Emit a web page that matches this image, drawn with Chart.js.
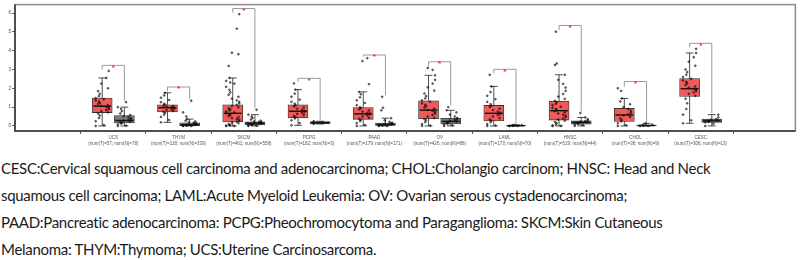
<!DOCTYPE html>
<html>
<head>
<meta charset="utf-8">
<script src="https://cdn.jsdelivr.net/npm/chart.js@4/dist/chart.umd.min.js"></script>
<style>
    body { margin: 0; background: #fff; width: 800px; height: 260px; overflow: hidden; position: relative; }
    #wrap { position: absolute; left: 0; top: 0; width: 800px; height: 150px; }
    #caption { position: absolute; left: 1px; top: 155px; font-family: Lato, "Open Sans", sans-serif; font-size: 15px; letter-spacing: -0.3px; line-height: 27px; color: #1a1a1a; white-space: nowrap; }
</style>
</head>
<body>
<div id="wrap"><canvas id="expr-box"></canvas></div>
<div id="caption">
    <div>CESC:Cervical squamous cell carcinoma and adenocarcinoma; CHOL:Cholangio carcinom; HNSC: Head and Neck</div>
    <div>squamous cell carcinoma; LAML:Acute Myeloid Leukemia: OV: Ovarian serous cystadenocarcinoma;</div>
    <div>PAAD:Pancreatic adenocarcinoma: PCPG:Pheochromocytoma and Paraganglioma: SKCM:Skin Cutaneous</div>
    <div>Melanoma: THYM:Thymoma; UCS:Uterine Carcinosarcoma.</div>
</div>
<script>
// cancer types, left to right
const categories = ["UCS", "THYM", "SKCM", "PCPG", "PAAD", "OV", "LAML", "HNSC", "CHOL", "CESC"];
const numTumor  = [57, 118, 461, 182, 179, 426, 173, 519, 36, 306];
const numNormal = [78, 339, 558, 3, 171, 88, 70, 44, 9, 13];
const yTicks = [0, 1, 2, 3, 4, 5, 6];

// box stats, tumor (red)
const tumorLow  = [0, 0.19, 0, 0.03, 0, 0, 0, 0, 0, 0.14];
const tumorQ1   = [0.71, 0.74, 0.21, 0.43, 0.35, 0.38, 0.26, 0.31, 0.24, 1.57];
const tumorMed  = [1.05, 0.97, 0.67, 0.78, 0.64, 0.84, 0.67, 0.81, 0.58, 1.98];
const tumorQ3   = [1.48, 1.12, 1.12, 1.12, 0.98, 1.33, 1.09, 1.31, 0.93, 2.52];
const tumorHigh = [2.55, 1.76, 2.55, 1.93, 1.81, 2.69, 2.1, 2.72, 1.46, 3.88];

// box stats, normal (grey)
const normalLow  = [0, 0, 0, 0.1, 0, 0, 0, 0, 0, 0];
const normalQ1   = [0.155, 0.02, 0.05, 0.12, 0.0, 0.1, 0, 0.09, 0.0, 0.19];
const normalMed  = [0.29, 0.07, 0.14, 0.17, 0.07, 0.24, 0.01, 0.19, 0.02, 0.27];
const normalQ3   = [0.55, 0.17, 0.22, 0.23, 0.15, 0.4, 0.03, 0.27, 0.04, 0.36];
const normalHigh = [1.0, 0.36, 0.6, 0.25, 0.41, 0.83, 0.06, 0.45, 0.14, 0.6];

// height of the significance bracket per type
const bracketLevel = [3.22, 2.07, 6.24, 2.53, 3.77, 3.41, 3.01, 5.34, 2.36, 4.39];

// jittered sample points
const tumorPoints = [
    [0, 0.05, 0.25, 0.42, 0.55, 0.66, 0.72, 0.78, 0.85, 0.9, 0.96, 1.02, 1.06, 1.1, 1.16, 1.22, 1.3, 1.36, 1.42, 1.48, 1.58, 1.7, 1.85, 2.0, 2.25, 2.55, 2.93],
    [0.19, 0.32, 0.48, 0.6, 0.7, 0.75, 0.8, 0.84, 0.88, 0.92, 0.96, 0.99, 1.02, 1.05, 1.08, 1.12, 1.18, 1.26, 1.38, 1.5, 1.62, 1.76],
    [0, 0, 0.01, 0.03, 0.06, 0.1, 0.14, 0.18, 0.22, 0.27, 0.32, 0.37, 0.42, 0.47, 0.52, 0.57, 0.62, 0.67, 0.72, 0.77, 0.82, 0.88, 0.94, 1.0, 1.06, 1.12, 1.2, 1.28, 1.36, 1.45, 1.55, 1.66, 1.78, 1.92, 2.08, 2.25, 2.4, 2.55, 2.31, 3.19, 3.81, 3.89, 5.17, 5.94],
    [0.03, 0.15, 0.3, 0.4, 0.46, 0.52, 0.58, 0.64, 0.7, 0.75, 0.8, 0.86, 0.92, 0.98, 1.04, 1.1, 1.18, 1.28, 1.4, 1.55, 1.72, 1.93, 2.26],
    [0, 0.05, 0.15, 0.25, 0.32, 0.38, 0.44, 0.5, 0.56, 0.62, 0.66, 0.7, 0.76, 0.82, 0.88, 0.94, 1.0, 1.1, 1.22, 1.36, 1.52, 1.68, 1.81, 2.22, 3.45, 3.6],
    [0, 0.02, 0.1, 0.2, 0.3, 0.36, 0.42, 0.5, 0.58, 0.66, 0.74, 0.8, 0.86, 0.92, 0.98, 1.05, 1.12, 1.2, 1.28, 1.36, 1.46, 1.58, 1.72, 1.88, 2.05, 2.25, 2.45, 2.69, 2.98, 3.08],
    [0, 0.02, 0.1, 0.2, 0.28, 0.35, 0.42, 0.5, 0.58, 0.64, 0.7, 0.76, 0.84, 0.92, 1.0, 1.08, 1.16, 1.28, 1.42, 1.6, 1.8, 2.1, 2.72],
    [0, 0, 0.02, 0.08, 0.15, 0.22, 0.28, 0.34, 0.4, 0.47, 0.54, 0.6, 0.66, 0.72, 0.78, 0.84, 0.9, 0.96, 1.02, 1.1, 1.18, 1.26, 1.34, 1.44, 1.56, 1.7, 1.86, 2.04, 2.24, 2.45, 2.72, 3.24, 3.32, 5.01],
    [0, 0.04, 0.14, 0.24, 0.32, 0.4, 0.48, 0.56, 0.62, 0.7, 0.8, 0.9, 1.0, 1.15, 1.3, 1.46, 1.86, 2.0],
    [0.14, 0.3, 0.6, 0.9, 1.2, 1.45, 1.6, 1.7, 1.78, 1.85, 1.92, 1.98, 2.04, 2.1, 2.18, 2.26, 2.34, 2.42, 2.5, 2.6, 2.72, 2.86, 3.0, 3.2, 3.42, 3.65, 3.88, 4.1]
];
const normalPoints = [
    [0, 0.02, 0.08, 0.13, 0.17, 0.2, 0.24, 0.28, 0.31, 0.35, 0.4, 0.46, 0.52, 0.58, 0.66, 0.78, 0.9, 1.0, 1.26],
    [0, 0, 0.01, 0.02, 0.03, 0.05, 0.06, 0.08, 0.1, 0.12, 0.14, 0.17, 0.2, 0.24, 0.28, 0.36, 0.5, 0.72, 1.34],
    [0, 0.01, 0.03, 0.05, 0.07, 0.09, 0.11, 0.13, 0.15, 0.17, 0.19, 0.21, 0.24, 0.28, 0.34, 0.42, 0.5, 0.6, 0.86],
    [0.1, 0.17, 0.25],
    [0, 0, 0.01, 0.02, 0.04, 0.06, 0.08, 0.1, 0.12, 0.14, 0.17, 0.22, 0.3, 0.41, 0.83, 0.97, 1.55],
    [0, 0.03, 0.08, 0.12, 0.16, 0.2, 0.24, 0.28, 0.32, 0.37, 0.42, 0.5, 0.6, 0.72, 0.83, 1.0],
    [0, 0, 0, 0.01, 0.02, 0.03, 0.04, 0.06],
    [0, 0.04, 0.08, 0.11, 0.14, 0.17, 0.2, 0.23, 0.26, 0.3, 0.36, 0.45, 0.69],
    [0, 0, 0.01, 0.02, 0.03, 0.04, 0.07, 0.14],
    [0, 0.12, 0.19, 0.22, 0.25, 0.27, 0.3, 0.33, 0.36, 0.45, 0.6]
];

const OFFSET = 0.17;      // tumor left / normal right of the tick
const CAP = 0.06;         // half width of whisker caps
const BOX_HALF = 0.137;   // half box width in x units

// spread points across the box, same pattern every time (no diagonal stripes)
const jitter = j => (((j * j * 7 + j * 3) % 17) / 16 - 0.5) * 0.2;

const boxData = (q1, q3, off) => categories.map((c, i) => ({ x: i + 1 + off, y: [q1[i], q3[i]] }));
const pointData = (pts, off) => pts.flatMap((arr, i) => arr.map((v, j) => ({ x: i + 1 + off + jitter(j), y: v })));

const boxExtras = {
    id: "boxExtras",
    beforeDatasetsDraw(chart) {
        const { ctx, scales: { x, y } } = chart;
        ctx.save();
        ctx.strokeStyle = "#222";
        ctx.lineWidth = 0.8;
        [[tumorLow, tumorHigh, -OFFSET], [normalLow, normalHigh, OFFSET]].forEach(([lo, hi, off]) => {
            categories.forEach((c, i) => {
                const cx = x.getPixelForValue(i + 1 + off);
                const w = x.getPixelForValue(i + 1 + off + CAP) - cx;
                const yl = y.getPixelForValue(lo[i]), yh = y.getPixelForValue(hi[i]);
                ctx.beginPath();
                ctx.moveTo(cx, yl); ctx.lineTo(cx, yh);
                ctx.moveTo(cx - w, yl); ctx.lineTo(cx + w, yl);
                ctx.moveTo(cx - w, yh); ctx.lineTo(cx + w, yh);
                ctx.stroke();
            });
        });
        ctx.restore();
    },
    afterDatasetsDraw(chart) {
        const { ctx, chartArea: a, scales: { x, y } } = chart;
        ctx.save();
        // medians
        ctx.strokeStyle = "#111";
        ctx.lineWidth = 1.4;
        [[tumorMed, -OFFSET], [normalMed, OFFSET]].forEach(([med, off]) => {
            categories.forEach((c, i) => {
                const x0 = x.getPixelForValue(i + 1 + off - BOX_HALF);
                const x1 = x.getPixelForValue(i + 1 + off + BOX_HALF);
                const ym = y.getPixelForValue(med[i]);
                ctx.beginPath(); ctx.moveTo(x0, ym); ctx.lineTo(x1, ym); ctx.stroke();
            });
        });
        // significance brackets
        ctx.strokeStyle = "#9a9a9a";
        ctx.lineWidth = 1;
        categories.forEach((c, i) => {
            const xl = x.getPixelForValue(i + 1 - OFFSET);
            const xr = x.getPixelForValue(i + 1 + OFFSET);
            const yb = y.getPixelForValue(bracketLevel[i]);
            const topT = Math.max(tumorHigh[i], ...tumorPoints[i]) + 0.08;
            const topN = Math.max(normalHigh[i], ...normalPoints[i]) + 0.08;
            ctx.beginPath();
            ctx.moveTo(xl, y.getPixelForValue(topT));
            ctx.lineTo(xl, yb); ctx.lineTo(xr, yb);
            ctx.lineTo(xr, y.getPixelForValue(topN));
            ctx.stroke();
            ctx.fillStyle = "#e8262b";
            ctx.font = "bold 8px 'Liberation Sans'";
            ctx.textAlign = "center";
            ctx.textBaseline = "middle";
            ctx.fillText("*", (xl + xr) / 2, yb + 2);
        });
        // panel frame
        ctx.strokeStyle = "#8a8a8a";
        ctx.lineWidth = 1.5;
        ctx.strokeRect(a.left, a.top, a.right - a.left, a.bottom - a.top);
        ctx.strokeStyle = "#333";
        ctx.beginPath();
        ctx.moveTo(a.left, a.top); ctx.lineTo(a.left, a.bottom); ctx.lineTo(a.right, a.bottom);
        ctx.stroke();
        ctx.restore();
    }
};

document.addEventListener("DOMContentLoaded", () => {
    const canvas = document.getElementById("expr-box");
    const ctx = canvas.getContext("2d");

    new Chart(ctx, {
        type: "bar",
        data: {
            datasets: [
                {
                    type: "scatter", label: "Tumor points", order: 0,
                    data: pointData(tumorPoints, -OFFSET),
                    pointRadius: 0.9, borderWidth: 0.6,
                    borderColor: "rgba(0,0,0,0.9)", backgroundColor: "rgba(30,30,30,0.5)"
                },
                {
                    type: "scatter", label: "Normal points", order: 0,
                    data: pointData(normalPoints, OFFSET),
                    pointRadius: 0.9, borderWidth: 0.6,
                    borderColor: "rgba(0,0,0,0.9)", backgroundColor: "rgba(30,30,30,0.5)"
                },
                {
                    label: "Tumor", order: 1, grouped: false, barThickness: 20,
                    data: boxData(tumorQ1, tumorQ3, -OFFSET),
                    backgroundColor: "#ef5b5b", borderColor: "#333", borderWidth: 0.8, borderSkipped: false
                },
                {
                    label: "Normal", order: 1, grouped: false, barThickness: 20,
                    data: boxData(normalQ1, normalQ3, OFFSET),
                    backgroundColor: "#7a7a7a", borderColor: "#333", borderWidth: 0.8, borderSkipped: false
                }
            ]
        },
        options: {
            responsive: true,
            maintainAspectRatio: false,
            animation: false,
            layout: { padding: { top: 1, right: 3, left: 0, bottom: 0 } },
            plugins: {
                legend: { display: false },
                tooltip: { enabled: false }
            },
            scales: {
                x: {
                    type: "linear",
                    min: 0.092,
                    max: 10.853,
                    afterBuildTicks: s => { s.ticks = categories.map((c, i) => ({ value: i + 1 })); },
                    afterFit: s => { s.height = 19; },
                    grid: { drawOnChartArea: false, tickLength: 3, color: "#333", lineWidth: 0.8 },
                    border: { display: false },
                    ticks: {
                        autoSkip: false, maxRotation: 0, padding: 1,
                        color: "#555",
                        font: { family: "'Liberation Sans'", size: 4.5, lineHeight: 1.3 },
                        callback: v => {
                            const i = Math.round(v) - 1;
                            return [categories[i], "(num(T)=" + numTumor[i] + "; num(N)=" + numNormal[i] + ")"];
                        }
                    }
                },
                y: {
                    min: -0.27,
                    max: 6.45,
                    afterBuildTicks: s => { s.ticks = yTicks.map(v => ({ value: v })); },
                    afterFit: s => { s.width = 15; },
                    grid: { drawOnChartArea: false, tickLength: 3, color: "#333", lineWidth: 0.8 },
                    border: { display: false },
                    ticks: {
                        padding: 1, color: "#444",
                        font: { family: "'Liberation Sans'", size: 4.5 },
                        callback: v => String(v)
                    }
                }
            }
        },
        plugins: [boxExtras]
    });
});
</script>
</body>
</html>
